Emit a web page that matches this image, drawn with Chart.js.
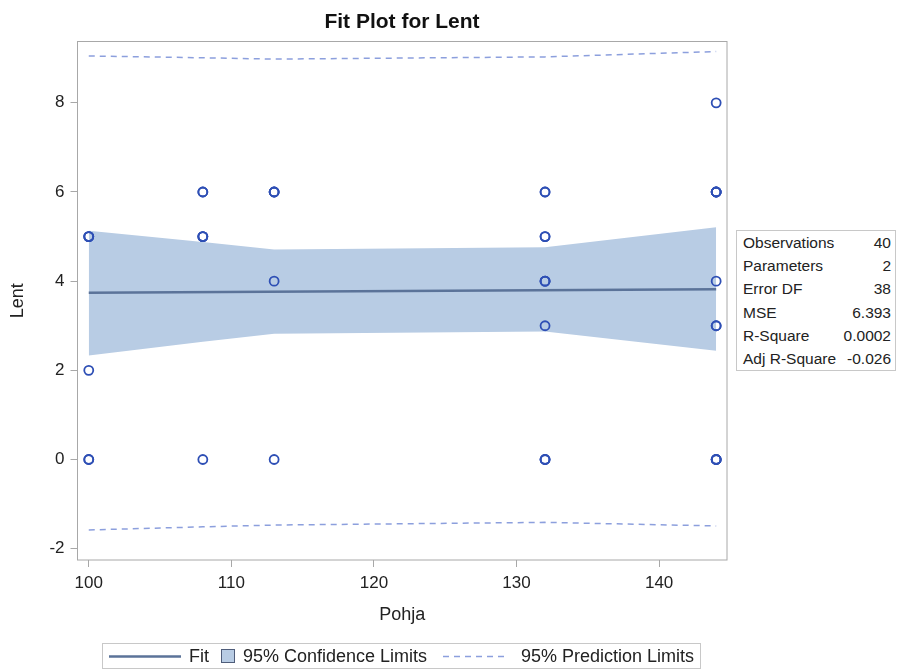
<!DOCTYPE html>
<html>
<head>
<meta charset="utf-8">
<script src="https://cdn.jsdelivr.net/npm/chart.js@4.4.1/dist/chart.umd.min.js"></script>
<style>
  body { margin: 0; background: #fff; font-family: "Liberation Sans", Arial, sans-serif; color: #222; }
  #wrap { position: relative; width: 898px; height: 669px; }
  #fitChart { position: absolute; left: 0; top: 0; }
  #title { position: absolute; left: 0; top: 0; width: 804px; line-height: 41px; text-align: center; font-weight: bold; font-size: 21px; color: #111; }
  #stats { position: absolute; left: 736px; top: 230px; width: 158px; border: 1px solid #c8c8c8; font-size: 15.5px; background: #fff; }
  #stats div { display: flex; justify-content: space-between; height: 23.2px; line-height: 23.2px; padding: 0 4px 0 6px; }
  #legend { position: absolute; left: 102px; top: 643px; width: 597px; height: 24px; border: 1px solid #c8c8c8; font-size: 18px; }
  #legend span, #legend svg { position: absolute; }
  #legend span { top: 0; line-height: 24px; }
</style>
</head>
<body>
<div id="wrap">
  <canvas id="fitChart" width="898" height="669"></canvas>
  <div id="title">Fit Plot for Lent</div>
  <div id="stats"></div>
  <div id="legend">
    <svg style="left:6px;top:0" width="72" height="24"><line x1="0" y1="12.5" x2="72" y2="12.5" stroke="#5b7399" stroke-width="2.5"/></svg>
    <span style="left:86px">Fit</span>
    <svg style="left:118px;top:5px" width="14" height="14"><rect x="0.5" y="0.5" width="13" height="13" fill="#b8cce4" stroke="#4f5d7a" stroke-width="1"/></svg>
    <span style="left:140px">95% Confidence Limits</span>
    <svg style="left:340px;top:0" width="66" height="24"><line x1="0" y1="12.5" x2="66" y2="12.5" stroke="#8c9fdd" stroke-width="1.5" stroke-dasharray="6,5"/></svg>
    <span style="left:418px">95% Prediction Limits</span>
  </div>
</div>
<script>
// Observations (Pohja vs Lent)
const pohja = [
  100, 100, 100, 100, 100, 100,
  108, 108, 108, 108, 108, 108,
  113, 113, 113, 113, 113,
  132, 132, 132, 132, 132, 132, 132, 132, 132, 132, 132,
  144, 144, 144, 144, 144, 144, 144, 144, 144, 144, 144, 144,
];
const lent = [
  5, 5, 5, 2, 0, 0,
  6, 6, 5, 5, 5, 0,
  6, 6, 6, 4, 0,
  6, 6, 5, 5, 4, 4, 4, 3, 0, 0, 0,
  8, 6, 6, 6, 6, 4, 3, 3, 0, 0, 0, 0,
];

// Fit line and limits
const fitX = [100, 144];
const fitY = [3.74, 3.82];
const limitX = [100, 108, 113, 132, 144];
const clUpper = [5.13, 4.88, 4.71, 4.76, 5.21];
const clLower = [2.33, 2.64, 2.82, 2.87, 2.44];
const plUpper = [9.05, 9.01, 8.98, 9.03, 9.15];
const plLower = [-1.58, -1.51, -1.47, -1.41, -1.49];

// Axis ticks
const xTicks = [100, 110, 120, 130, 140];
const yTicks = [-2, 0, 2, 4, 6, 8];

// Fit statistics
const statLabels = ["Observations", "Parameters", "Error DF", "MSE", "R-Square", "Adj R-Square"];
const statValues = ["40", "2", "38", "6.393", "0.0002", "-0.026"];

const statsBox = document.getElementById("stats");
statLabels.forEach((label, i) => {
  const row = document.createElement("div");
  row.innerHTML = `<span>${label}</span><span>${statValues[i]}</span>`;
  statsBox.appendChild(row);
});

const toPoints = (xs, ys) => xs.map((x, i) => ({ x: x, y: ys[i] }));

// Draws the box around the plot area
const frame = {
  id: "frame",
  afterDraw(chart) {
    const { ctx, chartArea: a } = chart;
    ctx.save();
    ctx.strokeStyle = "#a8a8a8";
    ctx.lineWidth = 1;
    ctx.strokeRect(a.left, a.top, a.right - a.left, a.bottom - a.top);
    ctx.restore();
  },
};

const tickFont = { family: "Liberation Sans", size: 17 };
const titleFont = { family: "Liberation Sans", size: 18 };

new Chart(document.getElementById("fitChart"), {
  type: "scatter",
  data: {
    datasets: [
      {
        label: "Observations",
        data: toPoints(pohja, lent),
        pointStyle: "circle",
        pointRadius: 4.5,
        pointBorderWidth: 1.8,
        borderColor: "#2e4fb5",
        backgroundColor: "rgba(0,0,0,0)",
        order: 0,
      },
      {
        type: "line",
        label: "Fit",
        data: toPoints(fitX, fitY),
        borderColor: "#5b7399",
        borderWidth: 2.5,
        pointRadius: 0,
        fill: false,
        order: 1,
      },
      {
        type: "line",
        label: "95% Prediction Limits",
        data: toPoints(limitX, plUpper),
        borderColor: "#8c9fdd",
        borderWidth: 1.5,
        borderDash: [6, 5],
        pointRadius: 0,
        fill: false,
        order: 2,
      },
      {
        type: "line",
        label: "95% Prediction Limits lower",
        data: toPoints(limitX, plLower),
        borderColor: "#8c9fdd",
        borderWidth: 1.5,
        borderDash: [6, 5],
        pointRadius: 0,
        fill: false,
        order: 2,
      },
      {
        type: "line",
        label: "95% Confidence Limits",
        data: toPoints(limitX, clUpper),
        borderWidth: 0,
        borderColor: "rgba(0,0,0,0)",
        backgroundColor: "#b8cce4",
        pointRadius: 0,
        fill: "+1",
        order: 3,
      },
      {
        type: "line",
        label: "95% Confidence Limits lower",
        data: toPoints(limitX, clLower),
        borderWidth: 0,
        borderColor: "rgba(0,0,0,0)",
        pointRadius: 0,
        fill: false,
        order: 3,
      },
    ],
  },
  options: {
    responsive: false,
    animation: false,
    layout: { padding: { left: 0, right: 171, top: 41.5, bottom: 39 } },
    plugins: {
      legend: { display: false },
      title: { display: false },
      tooltip: { enabled: false },
    },
    scales: {
      x: {
        type: "linear",
        min: 99.21,
        max: 144.76,
        afterBuildTicks: (scale) => {
          scale.ticks = xTicks.map((v) => ({ value: v }));
        },
        afterFit: (scale) => {
          scale.height = 70;
        },
        ticks: { color: "#222", font: tickFont, padding: 6, maxRotation: 0 },
        grid: { drawOnChartArea: false, drawTicks: true, tickLength: 7, color: "#a8a8a8" },
        border: { display: false },
        title: { display: true, text: "Pohja", color: "#222", font: titleFont, padding: { top: 0, bottom: 4 } },
      },
      y: {
        min: -2.254,
        max: 9.375,
        afterBuildTicks: (scale) => {
          scale.ticks = yTicks.map((v) => ({ value: v }));
        },
        afterFit: (scale) => {
          scale.width = 77.5;
        },
        ticks: { color: "#222", font: tickFont, padding: 6 },
        grid: { drawOnChartArea: false, drawTicks: true, tickLength: 7, color: "#a8a8a8" },
        border: { display: false },
        title: { display: true, text: "Lent", color: "#222", font: titleFont, padding: { top: 7, bottom: 0 } },
      },
    },
  },
  plugins: [frame],
});
</script>
</body>
</html>
